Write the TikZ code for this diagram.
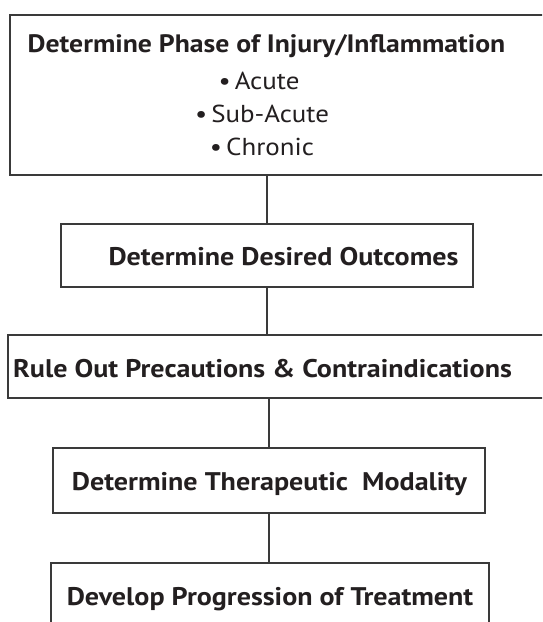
\documentclass[tikz,border=0pt]{standalone}
\usepackage{fontspec}
\setmainfont{PT Sans}[FakeStretch=1.1]
\definecolor{ink}{HTML}{231F20}
\definecolor{linegray}{HTML}{3A3A3A}
\begin{document}
\begin{tikzpicture}[x=1pt,y=-1pt,
  box/.style={draw=linegray, line width=1.1pt, inner sep=0pt},
  ttl/.style={font=\bfseries\fontsize{25.5}{30}\selectfont, text=ink, inner sep=0pt, anchor=base},
  ttlsm/.style={font=\bfseries\fontsize{25.2}{30}\selectfont, text=ink, inner sep=0pt, anchor=base},
  bul/.style={font=\fontsize{24.5}{28}\selectfont, text=ink, inner sep=0pt, anchor=base},
  conn/.style={draw=linegray, line width=1.1pt}]
\useasboundingbox (0,0) rectangle (542,622);
\clip (0,0) rectangle (542,622);
\fill[white] (0,0) rectangle (542,622);
% boxes
\node[box, minimum width=560pt, minimum height=160pt] (b1) at (290,95) {};
\node[box, minimum width=412pt, minimum height=63pt] (b2) at (267,255.5) {};
\node[box, minimum width=562pt, minimum height=63pt] (b3) at (289,366.5) {};
\node[box, minimum width=432pt, minimum height=65pt] (b4) at (269,480.5) {};
\node[box, minimum width=438pt, minimum height=87pt] (b5) at (270,606.5) {};
% texts
\node[ttlsm] (t1) at (266.5,52.5) {Determine Phase of Injury/Inflammation};
\node[bul] (a1) at (259,89) {\textbullet\,Acute};
\node[bul] (a2) at (262,122) {\textbullet\,Sub-Acute};
\node[bul] (a3) at (262,155) {\textbullet\,Chronic};
\node[ttl] (t2) at (283.5,265) {Determine Desired Outcomes};
\node[ttl] (t3) at (262.5,377) {Rule Out Precautions \& Contraindications};
\node[ttl] (t4) at (269.5,490) {Determine Therapeutic\ \ Modality};
\node[ttl] (t5) at (270,605) {Develop Progression of Treatment};
% connectors
\draw[conn] (b2.north |- b1.south) -- (b2.north);
\draw[conn] (b2.south) -- (b2.south |- b3.north);
\draw[conn] (b4.north |- b3.south) -- (b4.north);
\draw[conn] (b4.south) -- (b4.south |- b5.north);
\end{tikzpicture}
\end{document}
